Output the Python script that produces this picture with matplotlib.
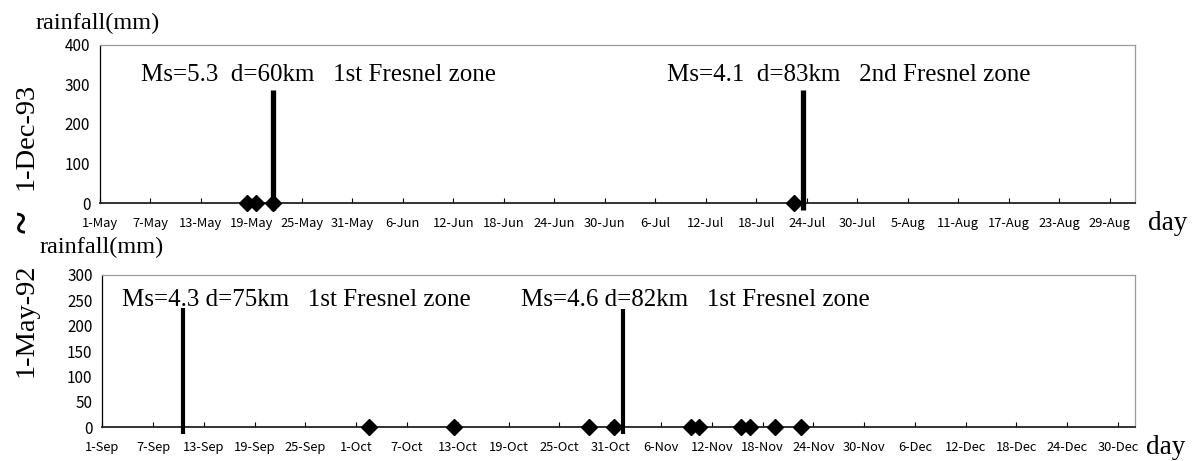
import numpy as np
import pandas as pd
import matplotlib
matplotlib.use("Agg")
import matplotlib.pyplot as plt

SERIF = ["Liberation Serif", "DejaVu Serif"]
GOTHIC = ["Noto Sans CJK JP", "DejaVu Sans"]

# ---- upper panel: May - Aug ----
top_start, top_end = "1993-05-01", "1993-09-01"
top_rain_dates = ["1993-05-18", "1993-05-19", "1993-05-21", "1993-07-22"]
top_rain_mm = [0, 0, 0, 0]
top_quake_dates = ["1993-05-21", "1993-07-23"]
top_quake_mark = [285, 285]
top_quake_text = ["Ms=5.3  d=60km   1st Fresnel zone",
                  "Ms=4.1  d=83km   2nd Fresnel zone"]
top_xlabels = ["1-May", "7-May", "13-May", "19-May", "25-May", "31-May",
               "6-Jun", "12-Jun", "18-Jun", "24-Jun", "30-Jun", "6-Jul",
               "12-Jul", "18-Jul", "24-Jul", "30-Jul", "5-Aug", "11-Aug",
               "17-Aug", "23-Aug", "29-Aug"]
top_yticks = [0, 100, 200, 300, 400]

# ---- lower panel: Sep - Dec ----
bot_start, bot_end = "1992-09-01", "1993-01-01"
bot_rain_dates = ["1992-10-02", "1992-10-12", "1992-10-28", "1992-10-31",
                  "1992-11-09", "1992-11-10", "1992-11-15", "1992-11-16",
                  "1992-11-19", "1992-11-22"]
bot_rain_mm = [0, 0, 0, 0, 0, 0, 0, 0, 0, 0]
bot_quake_dates = ["1992-09-10", "1992-11-01"]
bot_quake_mark = [235, 232]
bot_quake_text = ["Ms=4.3 d=75km   1st Fresnel zone",
                  "Ms=4.6 d=82km   1st Fresnel zone"]
bot_xlabels = ["1-Sep", "7-Sep", "13-Sep", "19-Sep", "25-Sep", "1-Oct",
               "7-Oct", "13-Oct", "19-Oct", "25-Oct", "31-Oct", "6-Nov",
               "12-Nov", "18-Nov", "24-Nov", "30-Nov", "6-Dec", "12-Dec",
               "18-Dec", "24-Dec", "30-Dec"]
bot_yticks = [0, 50, 100, 150, 200, 250, 300]

W, H = 1202, 461


def day_pos(dates, start):
    # day index from start, marks sit in the middle of the day
    d = pd.to_datetime(pd.Series(dates)) - pd.Timestamp(start)
    return d.dt.days.to_numpy() + 0.5


def draw_panel(ax, start, end, rain_dates, rain_mm, quake_dates, quake_mark,
               quake_text, text_x, text_y, xlabels, yticks, lw, below):
    ndays = (pd.Timestamp(end) - pd.Timestamp(start)).days
    ax.set_xlim(0, ndays)
    ax.set_ylim(yticks[0], yticks[-1])

    qx = day_pos(quake_dates, start)
    ax.vlines(qx, -below, quake_mark, colors="black", lw=lw, clip_on=False, zorder=3)
    rx = day_pos(rain_dates, start)
    ax.plot(rx, rain_mm, ls="none", marker="D", ms=8.4, color="black",
            clip_on=False, zorder=4)

    ax.set_xticks(np.arange(len(xlabels)) * 6)
    ax.set_xticklabels(xlabels, family=GOTHIC, fontsize=9.3)
    ax.set_yticks(yticks)
    ax.set_yticklabels([str(v) for v in yticks], family=GOTHIC, fontsize=11)
    ax.tick_params(axis="x", direction="in", length=3.5, width=0.8, pad=10)
    ax.tick_params(axis="y", length=0, pad=7)

    for s in ["top", "right"]:
        ax.spines[s].set_color("#9a9a9a")
        ax.spines[s].set_linewidth(0.9)
    ax.spines["left"].set_color("black")
    ax.spines["left"].set_linewidth(0.9)
    ax.spines["bottom"].set_color("#222222")
    ax.spines["bottom"].set_linewidth(1.3)

    for t, x in zip(quake_text, text_x):
        ax.text(x, text_y, t, transform=ax.transAxes, family=SERIF,
                fontsize=18, ha="left", va="center")


fig = plt.figure(figsize=(W / 100, H / 100), dpi=100)

ax1 = fig.add_axes([100 / W, 1 - 203 / H, 1035 / W, 158.3 / H])
draw_panel(ax1, top_start, top_end, top_rain_dates, top_rain_mm,
           top_quake_dates, top_quake_mark, top_quake_text,
           [0.040, 0.548], 0.81, top_xlabels, top_yticks, 3.8, 18)

ax2 = fig.add_axes([102.3 / W, 1 - 427 / H, 1032.7 / W, 152 / H])
draw_panel(ax2, bot_start, bot_end, bot_rain_dates, bot_rain_mm,
           bot_quake_dates, bot_quake_mark, bot_quake_text,
           [0.0188, 0.405], 0.835, bot_xlabels, bot_yticks, 3.0, 14)

# axis titles
fig.text(36 / W, 1 - 23 / H, "rainfall(mm)", family=SERIF, fontsize=17.5,
         ha="left", va="center")
fig.text(40 / W, 1 - 247 / H, "rainfall(mm)", family=SERIF, fontsize=17.5,
         ha="left", va="center")
fig.text(1148 / W, 1 - 223 / H, "day", family=SERIF, fontsize=19.5,
         ha="left", va="center")
fig.text(1146 / W, 1 - 447 / H, "day", family=SERIF, fontsize=19.5,
         ha="left", va="center")

# period label down the left side
fig.text(26 / W, 1 - 136 / H, "1-Dec-93", family=SERIF, fontsize=20.5,
         rotation=90, ha="center", va="center")
fig.text(26 / W, 1 - 222 / H, "~", family=SERIF, fontsize=30,
         fontweight="bold", rotation=90, ha="center", va="center")
fig.text(26 / W, 1 - 320 / H, "1-May-92", family=SERIF, fontsize=20.5,
         rotation=90, ha="center", va="center")

fig.savefig("out.png", dpi=100)
